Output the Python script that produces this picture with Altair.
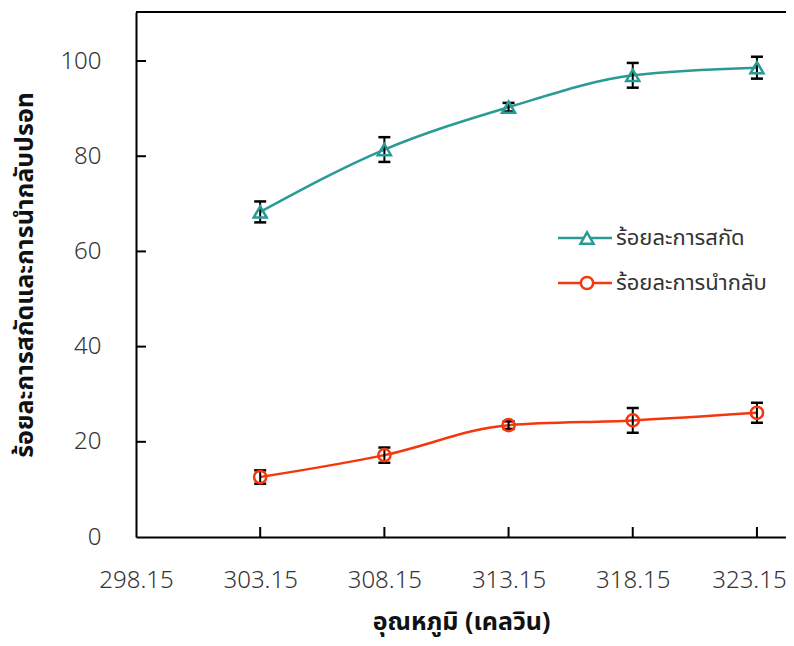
import altair as alt
import pandas as pd

# ---- data ----
temps = [303.15, 308.15, 313.15, 318.15, 323.15]
extraction = [68.3, 81.4, 90.3, 97.0, 98.6]
extraction_err = [2.2, 2.6, 0.9, 2.6, 2.3]
recovery = [12.6, 17.2, 23.5, 24.5, 26.1]
recovery_err = [1.4, 1.6, 0.8, 2.6, 2.1]
series_names = ["ร้อยละการสกัด", "ร้อยละการนำกลับ"]
series_colors = ["#2A9A94", "#F4380E"]
series_shapes = ["triangle-up", "circle"]
x_ticks = [298.15, 303.15, 308.15, 313.15, 318.15, 323.15]
y_ticks = [0, 20, 40, 60, 80, 100]
x_title = "อุณหภูมิ (เคลวิน)"
y_title = "ร้อยละการสกัดและการนำกลับปรอท"

W, H = 650, 525
XMIN, XMAX = 298.15, 324.32
YMAX = 110.3
FONT = "Noto Sans Thai, Noto Sans, sans-serif"

rows = []
for name, vals, errs in [(series_names[0], extraction, extraction_err),
                         (series_names[1], recovery, recovery_err)]:
    for t, v, e in zip(temps, vals, errs):
        rows.append({"T": t, "value": v, "lo": v - e, "hi": v + e, "series": name})
df = pd.DataFrame(rows)

xscale = alt.Scale(domain=[XMIN, XMAX], nice=False, zero=False)
yscale = alt.Scale(domain=[0, YMAX], nice=False)
xaxis = alt.Axis(values=x_ticks, format=".2f", title=x_title, labelPadding=31, titlePadding=17,
                 labelFlush=False,
                 labelOffset={"condition": {"test": "datum.value > 320", "value": -8}, "value": 0})
yaxis = alt.Axis(values=y_ticks, title=y_title, labelPadding=35, titlePadding=22, labelFlush=False)


def X(f):
    return alt.X(f, scale=xscale, axis=xaxis)


def Y(f):
    return alt.Y(f, scale=yscale, axis=yaxis)


base = alt.Chart(df)

lines = base.mark_line(interpolate="monotone", strokeWidth=2.5, clip=True).encode(
    x=X("T:Q"), y=Y("value:Q"),
    stroke=alt.Stroke("series:N", scale=alt.Scale(domain=series_names, range=series_colors),
                      legend=None),
)

err_rule = base.mark_rule(color="black", strokeWidth=2).encode(x=X("T:Q"), y=Y("lo:Q"), y2="hi:Q")
cap_lo = base.mark_tick(orient="horizontal", color="black", thickness=2.5, size=12, opacity=1).encode(
    x=X("T:Q"), y=Y("lo:Q"))
cap_hi = base.mark_tick(orient="horizontal", color="black", thickness=2.5, size=12, opacity=1).encode(
    x=X("T:Q"), y=Y("hi:Q"))

tri = base.transform_filter(alt.datum.series == series_names[0]).mark_point(
    shape=series_shapes[0], filled=False, size=170, strokeWidth=2.5, color=series_colors[0], opacity=1
).encode(x=X("T:Q"), y=Y("value:Q"))
circ = base.transform_filter(alt.datum.series == series_names[1]).mark_point(
    shape=series_shapes[1], filled=False, size=150, strokeWidth=2.5, color=series_colors[1], opacity=1
).encode(x=X("T:Q"), y=Y("value:Q"))

# inward axis ticks
xt = alt.Chart(pd.DataFrame({"t": x_ticks[1:]})).mark_tick(
    orient="vertical", size=10, thickness=2, color="black", yOffset=-5, opacity=1
).encode(x=X("t:Q"), y=alt.datum(0))
yt = alt.Chart(pd.DataFrame({"t": y_ticks[1:]})).mark_tick(
    orient="horizontal", size=10, thickness=2, color="black", xOffset=5, opacity=1
).encode(y=Y("t:Q"), x=alt.datum(XMIN))

top = alt.Chart(pd.DataFrame({"a": [0]})).mark_rule(color="black", strokeWidth=2).encode(
    y=alt.datum(YMAX))

# legend (drawn as marks, one row per series)
leg_df = pd.DataFrame({"series": series_names})
legend_layers = []
for i, (name, col, shp, sz) in enumerate(zip(series_names, series_colors, series_shapes, [170, 150])):
    ly = 226 + 45 * i
    sub = alt.Chart(leg_df).transform_filter(alt.datum.series == name)
    legend_layers += [
        sub.mark_rule(color=col, strokeWidth=2.5).encode(
            x=alt.value(422), x2=alt.value(476), y=alt.value(ly)),
        sub.mark_point(shape=shp, filled=True, fill="white", stroke=col, size=sz,
                       strokeWidth=2.5, opacity=1).encode(x=alt.value(451), y=alt.value(ly)),
        sub.mark_text(align="left", baseline="middle", font=FONT, fontSize=22,
                      color="#333333").encode(text="series:N", x=alt.value(480), y=alt.value(ly)),
    ]

chart = alt.layer(lines, err_rule, cap_lo, cap_hi, tri, circ, xt, yt, top, *legend_layers).properties(
    width=W, height=H,
    autosize=alt.AutoSizeParams(type="none"),
    padding={"left": 128, "top": 4, "right": 0, "bottom": 101},
).configure_view(stroke=None).configure_axis(
    domainColor="black", domainWidth=2, ticks=False, grid=False,
    labelFont=FONT, labelFontSize=24, labelFontWeight=300, labelColor="#333333",
    titleFont=FONT, titleFontSize=25, titleFontWeight="bold", titleColor="#111111",
)

chart.save("out.html", embed_options={"renderer": "svg", "actions": False})
